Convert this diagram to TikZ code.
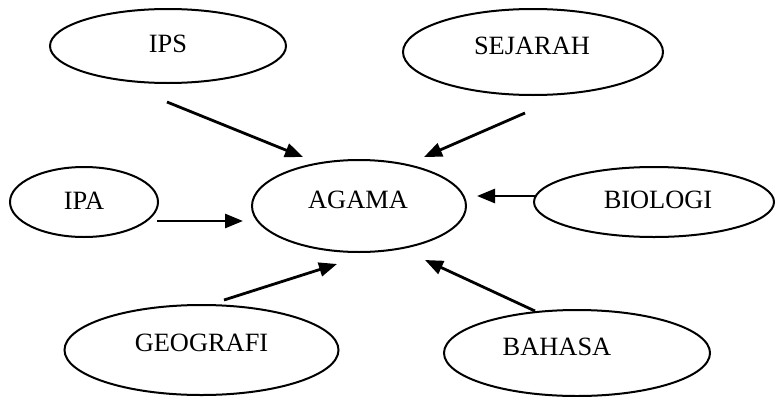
\documentclass[tikz,border=0pt]{standalone}
\usepackage{fontspec}
\setmainfont{Liberation Serif}
\usetikzlibrary{arrows.meta,shapes.geometric}
\tikzset{bubble/.style={ellipse,draw=black,line width=1pt,inner sep=0pt},
 subj/.style={font=\fontsize{13.2}{16}\selectfont,inner sep=0pt},
 arrow/.style={-{Triangle[length=9pt,width=7pt]},line width=1.4pt}}
\newcommand{\subjbubble}[7]{% name, centre x, centre y, half width, half height, text, text shift
 \node[bubble,minimum width=#4pt,minimum height=#5pt] (#1) at (#2,#3) {};
 \node[subj] (#1-t) at ([shift={(#7)}]#1) {#6};
}

\begin{document}
\begin{tikzpicture}[x=0.5pt,y=-0.5pt]
 \useasboundingbox (0,0) rectangle (775,396);
 \subjbubble{agama}{359}{206}{107}{46}{AGAMA}{-1,-6}
 \subjbubble{ips}{168}{46}{118}{37}{IPS}{0,-2}
 \subjbubble{sejarah}{533}{52}{130}{43}{SEJARAH}{-1,-6}
 \subjbubble{ipa}{84}{202}{74}{35}{IPA}{0,-1}
 \subjbubble{biologi}{654}{202}{120}{35}{BIOLOGI}{4,-2}
 \subjbubble{geografi}{201.5}{350}{137}{45}{GEOGRAFI}{0,-7}
 \subjbubble{bahasa}{577}{353}{133}{43}{BAHASA}{-20,-6}
 % arrow ends
 \coordinate (ips-out) at (167,102);      \coordinate (ips-in) at (303,157);
 \coordinate (sejarah-out) at (525,113);  \coordinate (sejarah-in) at (424,157);
 \coordinate (ipa-out) at (157,221);      \coordinate (ipa-in) at (243,221);
 \coordinate (biologi-out) at (535,196);  \coordinate (biologi-in) at (477,196);
 \coordinate (geografi-out) at (224,300); \coordinate (geografi-in) at (337,264);
 \coordinate (bahasa-out) at (535,311);   \coordinate (bahasa-in) at (425,260);
 \foreach \s in {ips,sejarah,ipa,biologi,geografi,bahasa}
  \draw[arrow] (\s-out) -- (\s-in);
\end{tikzpicture}
\end{document}
